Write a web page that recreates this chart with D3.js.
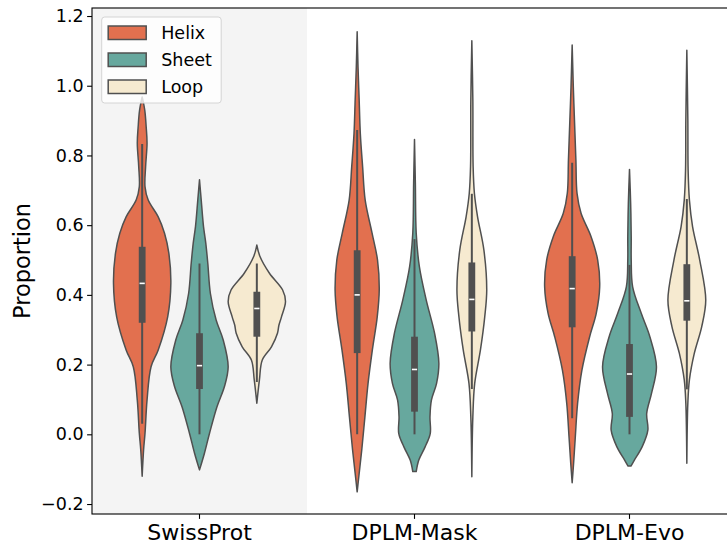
<!DOCTYPE html>
<html>
<head>
<meta charset="utf-8">
<script src="https://cdn.jsdelivr.net/npm/d3@7"></script>
<style>
  body { margin: 0; background: #fff; }
  text { font-family: "DejaVu Sans", sans-serif; fill: #000; }
</style>
</head>
<body>
<div id="viz"></div>
<script>
const groups = ['SwissProt', 'DPLM-Mask', 'DPLM-Evo'];
const hues = ['Helix', 'Sheet', 'Loop'];
const hueColors = ['#E2704F', '#67A89E', '#F6EAD0'];
const yTicks = [-0.2, 0.0, 0.2, 0.4, 0.6, 0.8, 1.0, 1.2];

// density profiles: [value, relative width]
const swissHelix = [[0.968,0],[0.930,0.09],[0.882,0.14],[0.835,0.17],[0.768,0.12],[0.710,0.10],[0.672,0.21],[0.624,0.56],[0.577,0.78],[0.520,0.93],[0.433,1.0],[0.337,0.89],[0.242,0.56],[0.194,0.31],[0.098,0.17],[0.004,0.10],[-0.044,0.05],[-0.12,0]];
const swissSheet = [[0.730,0],[0.672,0.06],[0.596,0.14],[0.548,0.22],[0.490,0.29],[0.404,0.38],[0.328,0.58],[0.270,0.83],[0.194,1.0],[0.137,0.87],[0.079,0.61],[0.003,0.35],[-0.055,0.17],[-0.102,0]];
const swissLoop = [[0.543,0],[0.510,0.11],[0.462,0.44],[0.414,0.90],[0.381,1.0],[0.337,0.86],[0.313,0.77],[0.290,0.72],[0.251,0.51],[0.213,0.19],[0.156,0.09],[0.089,0]];
const maskHelix = [[1.155,0],[1.054,0.03],[0.959,0.07],[0.863,0.11],[0.768,0.19],[0.672,0.28],[0.577,0.52],[0.500,0.71],[0.414,0.77],[0.337,0.70],[0.242,0.53],[0.146,0.38],[0.050,0.27],[-0.045,0.16],[-0.112,0.07],[-0.165,0]];
const maskSheet = [[0.846,0],[0.720,0.03],[0.577,0.06],[0.481,0.17],[0.385,0.41],[0.290,0.70],[0.204,0.85],[0.146,0.77],[0.098,0.59],[0.050,0.54],[0.003,0.55],[-0.036,0.37],[-0.074,0.15],[-0.107,0.06]];
const maskLoop = [[1.129,0],[0.959,0.035],[0.768,0.045],[0.691,0.09],[0.624,0.20],[0.529,0.42],[0.414,0.52],[0.337,0.45],[0.242,0.30],[0.146,0.10],[0.050,0.035],[-0.122,0]];
const evoHelix = [[1.117,0],[0.997,0.04],[0.902,0.08],[0.787,0.13],[0.691,0.17],[0.634,0.31],[0.567,0.66],[0.500,0.89],[0.423,0.96],[0.347,0.84],[0.280,0.61],[0.184,0.34],[0.089,0.19],[-0.007,0.11],[-0.083,0.05],[-0.139,0]];
const evoSheet = [[0.760,0],[0.663,0.04],[0.567,0.06],[0.500,0.06],[0.423,0.11],[0.347,0.41],[0.280,0.71],[0.194,0.94],[0.118,0.77],[0.060,0.60],[0.012,0.64],[-0.036,0.44],[-0.074,0.17],[-0.091,0.05]];
const evoLoop = [[1.102,0],[0.902,0.035],[0.758,0.045],[0.672,0.09],[0.596,0.20],[0.500,0.45],[0.385,0.66],[0.309,0.52],[0.232,0.26],[0.156,0.09],[0.089,0.035],[-0.083,0]];

// box stats: [whisker low, q1, median, q3, whisker high]
const swissBoxes = [[0.030,0.320,0.433,0.538,0.833],[0.0,0.130,0.197,0.290,0.490],[0.150,0.280,0.361,0.409,0.490]];
const maskBoxes = [[0.0,0.233,0.400,0.528,0.873],[0.0,0.065,0.186,0.280,0.560],[0.130,0.295,0.387,0.493,0.690]];
const evoBoxes = [[0.046,0.307,0.418,0.511,0.779],[0.0,0.050,0.173,0.259,0.486],[0.129,0.326,0.383,0.488,0.675]];

const profiles = [[swissHelix, swissSheet, swissLoop], [maskHelix, maskSheet, maskLoop], [evoHelix, evoSheet, evoLoop]];
const boxes = [swissBoxes, maskBoxes, evoBoxes];

const width = 727;
const height = 546;
const margin = { top: 8, right: -10, bottom: 32, left: 92 };
const innerWidth = width - margin.left - margin.right;
const innerHeight = height - margin.top - margin.bottom;
const edge = '#505050';

const svg = d3.select('#viz')
              .append('svg')
              .attr('width', width)
              .attr('height', height)
              .style('display', 'block');

const g = svg.append('g')
             .attr('transform', 'translate(' + margin.left + ',' + margin.top + ')');

const x = d3.scaleBand()
            .domain(groups)
            .range([0, innerWidth]);

const xHue = d3.scaleBand()
               .domain(hues)
               .range([-0.4 * x.bandwidth(), 0.4 * x.bandwidth()]);

const y = d3.scaleLinear()
            .domain([-0.2286, 1.223])
            .range([innerHeight, 0]);

const w = d3.scaleLinear()
            .domain([0, 1])
            .range([0, xHue.bandwidth() / 2]);

// shaded band behind SwissProt
g.append('rect')
 .attr('x', x('SwissProt'))
 .attr('y', 0)
 .attr('width', x.bandwidth())
 .attr('height', innerHeight)
 .attr('fill', '#f4f4f4');

groups.forEach((grp, gi) => {
    hues.forEach((hue, hi) => {
        const cx = x(grp) + x.bandwidth() / 2 + xHue(hue) + xHue.bandwidth() / 2;
        const area = d3.area()
                       .y(d => y(d[0]))
                       .x0(d => cx - w(d[1]))
                       .x1(d => cx + w(d[1]))
                       .curve(d3.curveCatmullRom.alpha(0.5));

        g.append('path')
         .attr('d', area(profiles[gi][hi]))
         .attr('fill', hueColors[hi])
         .attr('stroke', edge)
         .attr('stroke-width', 1.5)
         .attr('stroke-linejoin', 'round');

        const b = boxes[gi][hi];
        g.append('line')
         .attr('x1', cx).attr('x2', cx)
         .attr('y1', y(b[0])).attr('y2', y(b[4]))
         .attr('stroke', edge)
         .attr('stroke-width', 2);

        g.append('rect')
         .attr('x', cx - 3.4)
         .attr('width', 6.8)
         .attr('y', y(b[3]))
         .attr('height', y(b[1]) - y(b[3]))
         .attr('fill', edge);

        g.append('rect')
         .attr('x', cx - 2.6)
         .attr('width', 5.2)
         .attr('y', y(b[2]) - 0.8)
         .attr('height', 1.6)
         .attr('fill', '#fff');
    });
});

// axes
const yAxis = d3.axisLeft(y)
                .tickValues(yTicks)
                .tickSize(4.9)
                .tickPadding(3.5)
                .tickFormat(d => d3.format('.1f')(d).replace('-', '\u2212'));

const yG = g.append('g').attr('class', 'y-axis').call(yAxis);
yG.select('.domain').remove();
yG.selectAll('line').attr('stroke', '#000').attr('stroke-width', 1.1);
yG.selectAll('text').attr('font-size', '17.5px').attr('font-family', 'DejaVu Sans').attr('fill', '#000');

const xAxis = d3.axisBottom(x)
                .tickSize(4.9)
                .tickPadding(5);

const xG = g.append('g')
            .attr('class', 'x-axis')
            .attr('transform', 'translate(0,' + innerHeight + ')')
            .call(xAxis);
xG.select('.domain').remove();
xG.selectAll('line').attr('stroke', '#000').attr('stroke-width', 1.1);
xG.selectAll('text').attr('font-size', '22px').attr('font-family', 'DejaVu Sans').attr('fill', '#000');

// frame (right spine falls just outside the picture)
g.append('rect')
 .attr('x', 0)
 .attr('y', 0)
 .attr('width', innerWidth)
 .attr('height', innerHeight)
 .attr('fill', 'none')
 .attr('stroke', '#000')
 .attr('stroke-width', 1.1);

g.append('text')
 .attr('class', 'y-axis-label')
 .attr('transform', 'translate(' + (30 - margin.left) + ',' + (innerHeight / 2) + ') rotate(-90)')
 .attr('text-anchor', 'middle')
 .attr('font-size', '22.5px')
 .text('Proportion');

// legend
const legend = g.append('g').attr('transform', 'translate(9.7,9)');
legend.append('rect')
      .attr('width', 119.5)
      .attr('height', 86)
      .attr('rx', 3)
      .attr('fill', '#fff')
      .attr('fill-opacity', 0.8)
      .attr('stroke', '#d4d4d4')
      .attr('stroke-width', 1);

hues.forEach((hue, i) => {
    const row = legend.append('g').attr('transform', 'translate(0,' + (9 + i * 27) + ')');
    row.append('rect')
       .attr('x', 6.5)
       .attr('y', 0)
       .attr('width', 38)
       .attr('height', 13.5)
       .attr('fill', hueColors[i])
       .attr('stroke', edge)
       .attr('stroke-width', 1.5);
    row.append('text')
       .attr('x', 59.5)
       .attr('y', 13)
       .attr('font-size', '17.5px')
       .text(hue);
});
</script>
</body>
</html>
